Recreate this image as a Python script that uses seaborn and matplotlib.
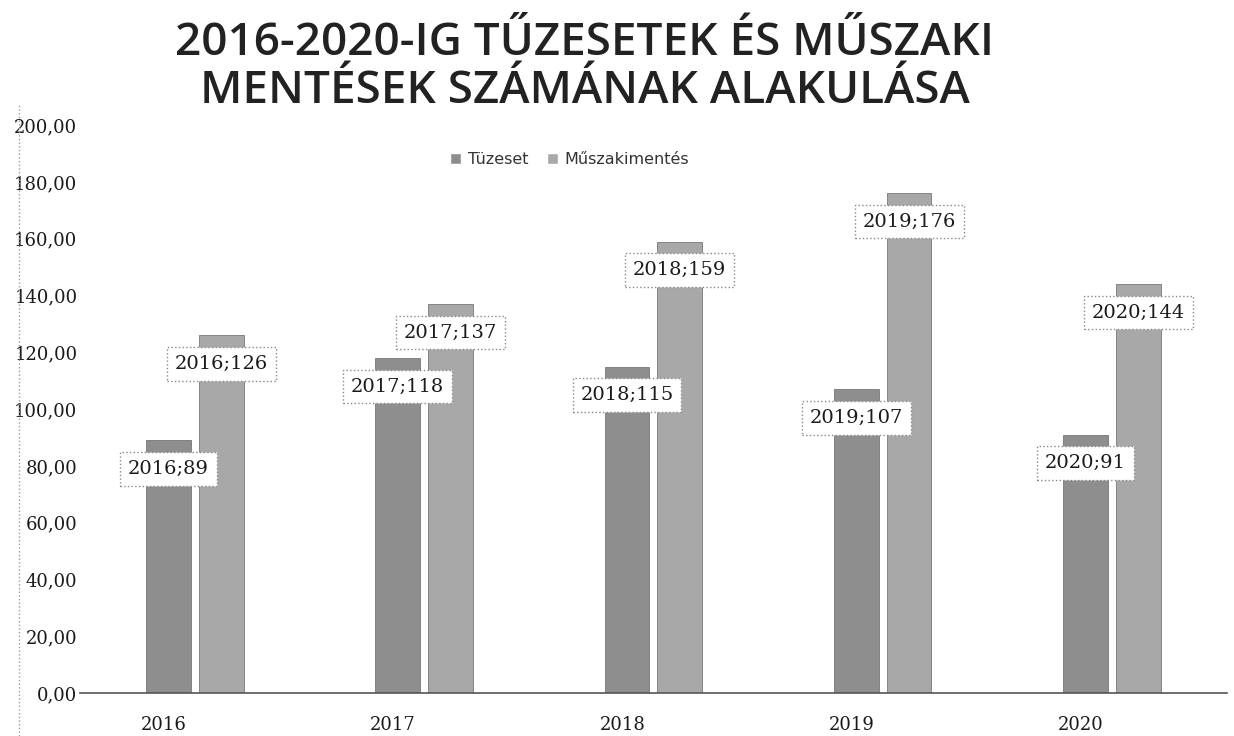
import pandas as pd
import matplotlib.pyplot as plt
import matplotlib.transforms as mtransforms
import seaborn as sns
from matplotlib.ticker import FuncFormatter
from matplotlib.lines import Line2D

# adatok
years = ['2016', '2017', '2018', '2019', '2020']
tuzeset = [89, 118, 115, 107, 91]
muszaki = [126, 137, 159, 176, 144]
series = ['Tüzeset', 'Műszakimentés']
colors = ['#8e8e8e', '#a8a8a8']

df = pd.DataFrame({
    'Év': years * 2,
    'Érték': tuzeset + muszaki,
    'Típus': [series[0]] * len(years) + [series[1]] * len(years),
})

sns.set_style('white')
plt.rcParams['font.family'] = ['DejaVu Sans']

fig = plt.figure(figsize=(12.34, 7.36), dpi=100)
ax = fig.add_axes([0.065, 0.058, 0.929, 0.772])

sns.barplot(
    data=df, x='Év', y='Érték', hue='Típus',
    palette=colors, width=0.46, gap=0.15, ax=ax,
    saturation=1, edgecolor='#777777', linewidth=0.6,
)

ax.set_ylim(0, 200)
ax.set_yticks(range(0, 201, 20))
ax.yaxis.set_major_formatter(FuncFormatter(lambda v, _: f'{v:.2f}'.replace('.', ',')))
for lab in ax.get_yticklabels():
    lab.set_family('DejaVu Serif')
    lab.set_fontsize(13)
    lab.set_color('#1a1a1a')
ax.tick_params(axis='y', length=0, pad=2)
ax.tick_params(axis='x', length=0, pad=16)
# évszámok a tűzeset oszlop alatt
shift = mtransforms.ScaledTranslation(-0.31, 0, fig.dpi_scale_trans)
for lab in ax.get_xticklabels():
    lab.set_family('DejaVu Serif')
    lab.set_fontsize(13)
    lab.set_color('#1a1a1a')
    lab.set_transform(lab.get_transform() + shift)
ax.set_xlabel('')
ax.set_ylabel('')

for s in ['top', 'right', 'left']:
    ax.spines[s].set_visible(False)
ax.spines['bottom'].set_color('#555555')
ax.spines['bottom'].set_linewidth(1.2)

# adatcímkék
for cont in ax.containers:
    for bar, year in zip(cont, years):
        h = bar.get_height()
        ax.text(bar.get_x() + bar.get_width() / 2, h - 10, f'{year};{int(h)}',
                ha='center', va='center', fontsize=14, family='DejaVu Serif',
                color='#1a1a1a',
                bbox=dict(boxstyle='square,pad=0.4', facecolor='white',
                          edgecolor='#888888', linestyle=':', linewidth=1))

# jelmagyarázat
handles = [plt.Rectangle((0, 0), 1, 1, facecolor=c) for c in colors]
ax.legend(handles, series, loc='center', bbox_to_anchor=(0.427, 0.94), ncol=2,
          frameon=False, fontsize=11.5, handlelength=0.7, handleheight=0.7,
          columnspacing=1.2, handletextpad=0.4, labelcolor='#333333')

fig.text(0.474, 0.972, '2016-2020-IG TŰZESETEK ÉS MŰSZAKI\nMENTÉSEK SZÁMÁNAK ALAKULÁSA',
         ha='center', va='top', fontsize=33, fontweight='semibold', family='Open Sans',
         color='#222222', linespacing=1.1)

# bal oldali keret
fig.add_artist(Line2D([0.015, 0.015], [0.0, 0.86], color='#999999',
                      linestyle=':', linewidth=1))

plt.savefig('out.png', dpi=100)
